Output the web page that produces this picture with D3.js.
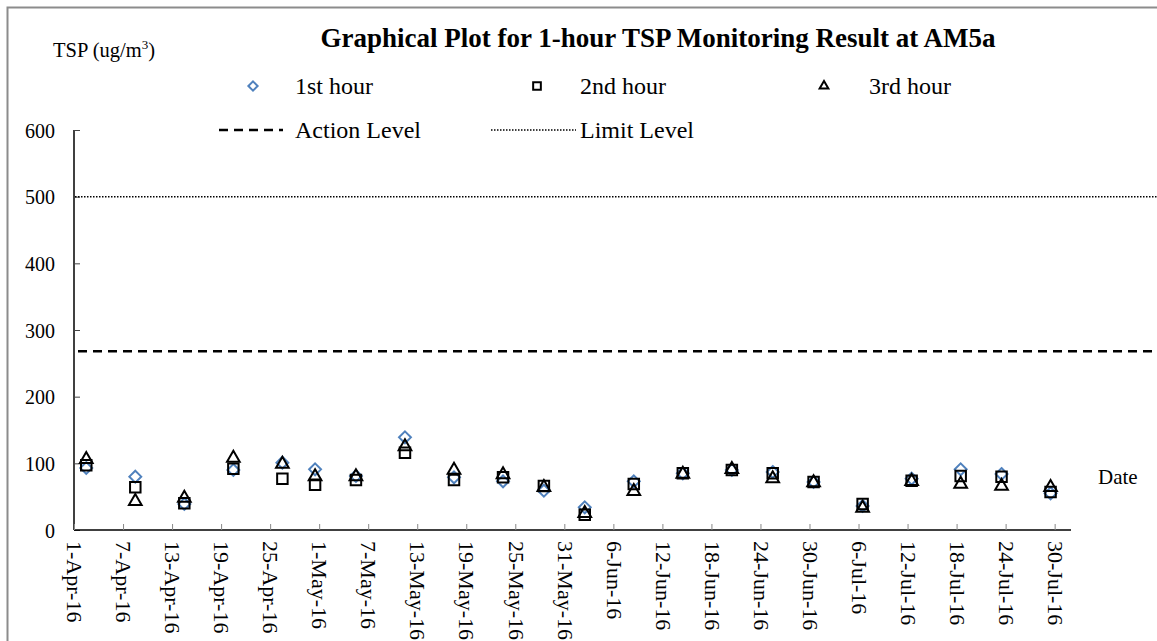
<!DOCTYPE html>
<meta charset="utf-8">
<style>
body { margin: 0; background: #fff; }
svg text { font-family: "Liberation Serif", "Times New Roman", serif !important; fill: #000; }
.tick text { font-size: 20px; }
</style>
<svg width="1157" height="641"></svg>
<script src="https://cdnjs.cloudflare.com/ajax/libs/d3/7.8.5/d3.min.js"></script>
<script>

// sampling dates and 1-hour TSP results (ug/m3)
var dates  = ["2016-04-02","2016-04-08","2016-04-14","2016-04-20","2016-04-26","2016-04-30","2016-05-05",
              "2016-05-11","2016-05-17","2016-05-23","2016-05-28","2016-06-02","2016-06-08","2016-06-14",
              "2016-06-20","2016-06-25","2016-06-30","2016-07-06","2016-07-12","2016-07-18","2016-07-23","2016-07-29"];
var hour1  = [93, 80, 39, 90, 101, 91, 81, 139, 79, 73, 59, 34, 73, 85, 90, 87, 72, 36, 77, 91, 84, 55];
var hour2  = [97, 64, 40, 92, 77, 68, 75, 116, 75, 79, 66, 23, 69, 85, 90, 85, 72, 39, 74, 81, 80, 57];
var hour3  = [106, 43, 48, 108, 99, 80, 80, 125, 90, 83, 64, 25, 58, 84, 91, 77, 71, 33, 73, 69, 66, 64];
var actionLevel = 268;
var limitLevel = 500;
var yTicks = [0, 100, 200, 300, 400, 500, 600];

var svg = d3.select("svg"),
    width = +svg.attr("width"),
    height = +svg.attr("height");

var parse = d3.timeParse("%Y-%m-%d"),
    fmt = d3.timeFormat("%-d-%b-%y");

var x = d3.scaleTime()
    .domain([parse("2016-04-01"), parse("2016-08-01")])
    .range([74, 1071]);

var y = d3.scaleLinear()
    .domain([0, 600])
    .range([530, 130]);

// outer frame
svg.append("rect")
    .attr("x", 7.5).attr("y", 7.5)
    .attr("width", width + 10).attr("height", height + 10)
    .attr("fill", "none").attr("stroke", "#8c8c8c").attr("stroke-width", 2);

// y axis
var yAxis = svg.append("g")
    .attr("transform", "translate(74,0)")
    .call(d3.axisRight(y).tickValues(yTicks).tickSize(6).tickFormat(d3.format("d")));
yAxis.attr("font-family", null).attr("font-size", null);
yAxis.select(".domain").attr("d", "M0," + y(0) + "V" + y(600)).attr("stroke-width", 1.5);
yAxis.selectAll(".tick line").attr("stroke", "#444");
yAxis.selectAll(".tick text")
    .attr("x", -19).attr("text-anchor", "end").attr("dy", "0.35em");

// x axis
var xTicks = d3.timeDay.range(parse("2016-04-01"), parse("2016-08-01"), 6);
var xAxis = svg.append("g")
    .attr("transform", "translate(0,530)")
    .call(d3.axisTop(x).tickValues(xTicks).tickSize(6).tickFormat(fmt));
xAxis.attr("font-family", null).attr("font-size", null);
xAxis.select(".domain").attr("d", "M" + x.range()[0] + ",0H" + x.range()[1]).attr("stroke-width", 1.5);
xAxis.selectAll(".tick line").attr("stroke", "#888");
xAxis.selectAll(".tick text")
    .attr("y", 0).attr("dy", "0.33em")
    .attr("transform", "translate(0,11) rotate(90)")
    .attr("text-anchor", "start")
    .attr("x", 0)
    .style("font-size", "22px");

// level lines
svg.append("line")
    .attr("x1", x.range()[0] + 4).attr("x2", width)
    .attr("y1", y(actionLevel)).attr("y2", y(actionLevel))
    .attr("stroke", "#000").attr("stroke-width", 2.5).attr("stroke-dasharray", "9,6");
svg.append("line")
    .attr("x1", x.range()[0] + 1).attr("x2", width)
    .attr("y1", y(limitLevel)).attr("y2", y(limitLevel))
    .attr("stroke", "#000").attr("stroke-width", 1.5).attr("stroke-dasharray", "1.5,1.5");

var rows = dates.map(function(d, i) {
  return { t: d3.timeHour.offset(parse(d), 12), h1: hour1[i], h2: hour2[i], h3: hour3[i] };
});

var sym = {
  diamond: d3.symbol().type(d3.symbolDiamond2).size(90),
  square: d3.symbol().type(d3.symbolSquare2).size(140),
  triangle: d3.symbol().type(d3.symbolTriangle2).size(115)
};

function drawSeries(key, shape, color) {
  svg.append("g").selectAll("path")
    .data(rows)
    .enter().append("path")
      .attr("d", sym[shape])
      .attr("transform", function(d) { return "translate(" + x(d.t) + "," + y(d[key]) + ")"; })
      .attr("fill", "none").attr("stroke", color).attr("stroke-width", 2);
}
drawSeries("h1", "diamond", "#4f81bd");
drawSeries("h2", "square", "#000");
drawSeries("h3", "triangle", "#000");

// titles
svg.append("text").attr("x", 658).attr("y", 47).attr("text-anchor", "middle")
    .style("font-size", "27px").style("font-weight", "bold")
    .text("Graphical Plot for 1-hour TSP Monitoring Result at AM5a");

var yl = svg.append("text").attr("x", 53).attr("y", 57).style("font-size", "20.5px");
yl.append("tspan").text("TSP (ug/m");
yl.append("tspan").attr("dy", -8).style("font-size", "13px").text("3");
yl.append("tspan").attr("dy", 8).text(")");

svg.append("text").attr("x", 1098).attr("y", 484).style("font-size", "21px").text("Date");

// legend
var legendMarks = [
  { type: d3.symbolDiamond2, size: 55, color: "#4f81bd", label: "1st hour", mx: 253, tx: 295 },
  { type: d3.symbolSquare2, size: 75, color: "#000", label: "2nd hour", mx: 537, tx: 580 },
  { type: d3.symbolTriangle2, size: 55, color: "#000", label: "3rd hour", mx: 824, tx: 869 }
];
legendMarks.forEach(function(l) {
  svg.append("path")
    .attr("d", d3.symbol().type(l.type).size(l.size))
    .attr("transform", "translate(" + l.mx + ",86)")
    .attr("fill", "none").attr("stroke", l.color).attr("stroke-width", 2);
  svg.append("text").attr("x", l.tx).attr("y", 94).style("font-size", "24px").text(l.label);
});

svg.append("line").attr("x1", 219).attr("x2", 283).attr("y1", 130).attr("y2", 130)
    .attr("stroke", "#000").attr("stroke-width", 2.5).attr("stroke-dasharray", "9,6");
svg.append("text").attr("x", 295).attr("y", 138).style("font-size", "24px").text("Action Level");
svg.append("line").attr("x1", 491).attr("x2", 576).attr("y1", 130).attr("y2", 130)
    .attr("stroke", "#000").attr("stroke-width", 1.5).attr("stroke-dasharray", "1.5,1.5");
svg.append("text").attr("x", 580).attr("y", 138).style("font-size", "24px").text("Limit Level");

</script>
